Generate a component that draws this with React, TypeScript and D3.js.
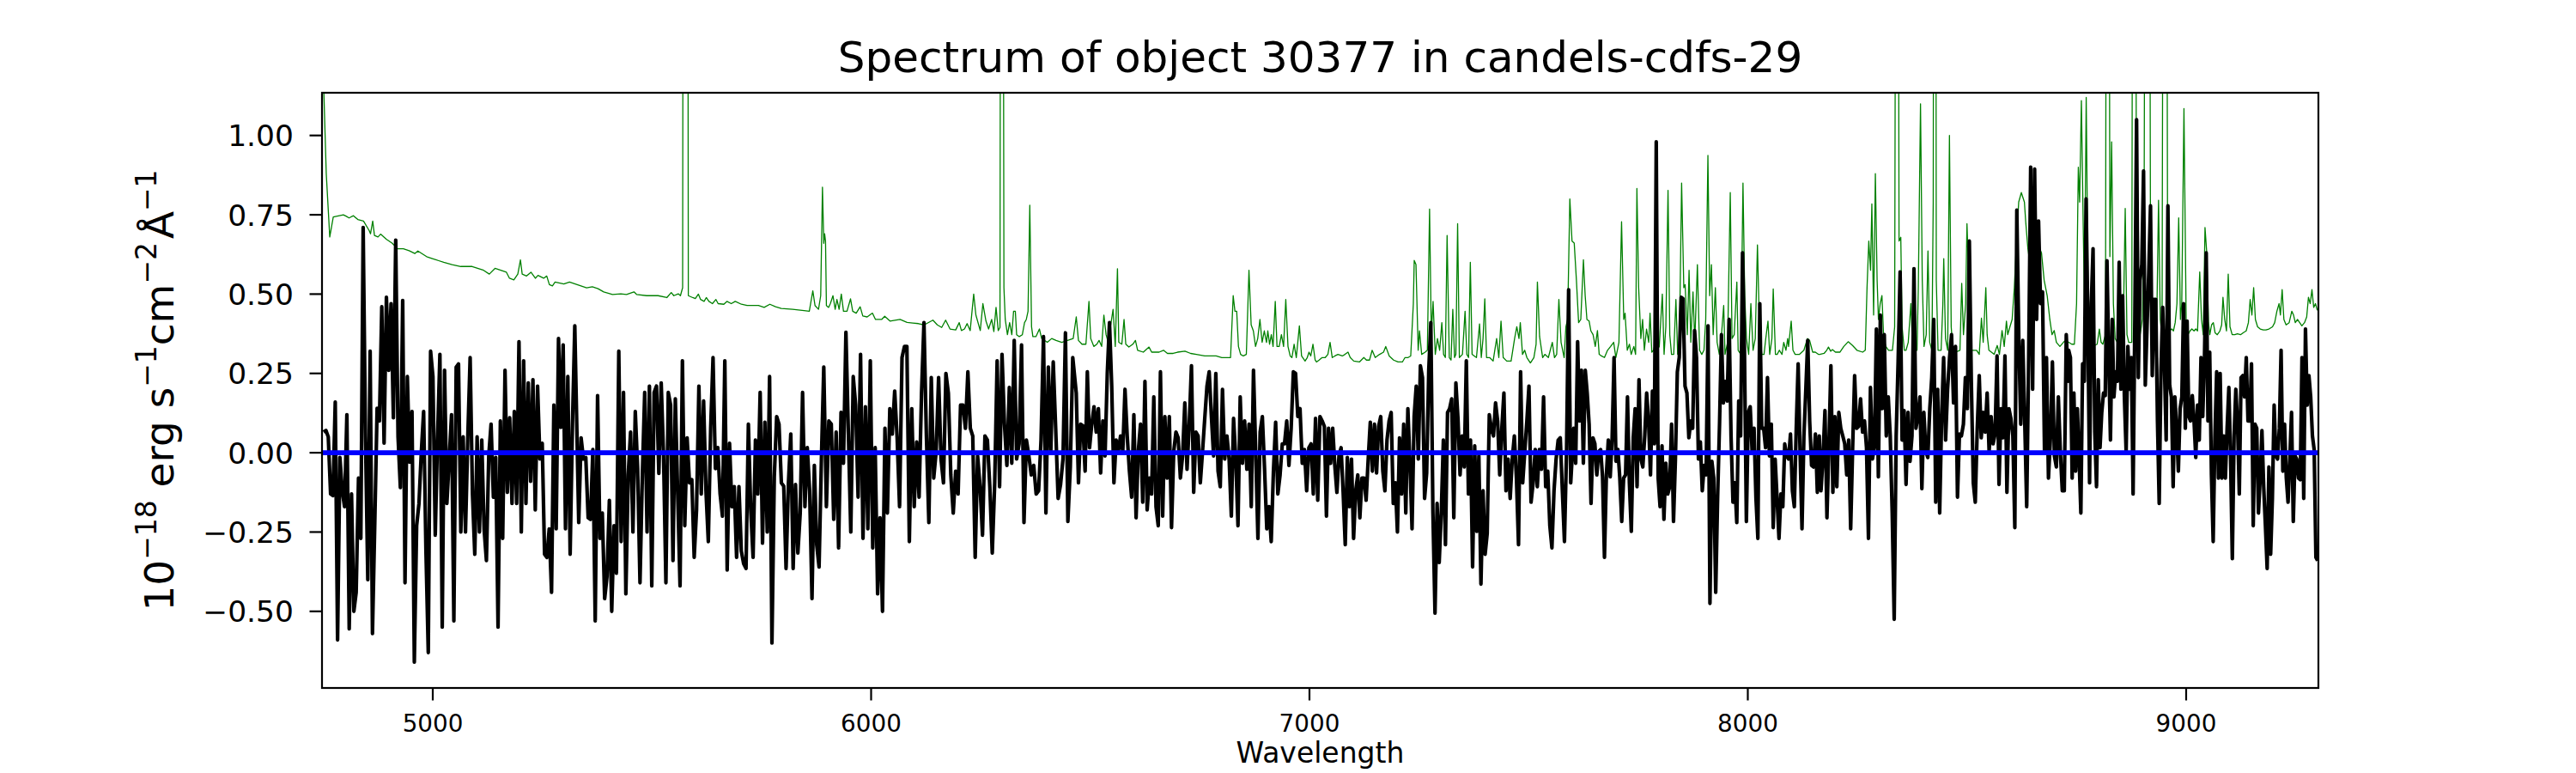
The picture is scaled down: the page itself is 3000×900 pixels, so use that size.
import React from 'react';
import * as d3 from 'd3';

// ---------- data ----------
const title = 'Spectrum of object 30377 in candels-cdfs-29';
const xLabel = 'Wavelength';
const xTicks = [5000, 6000, 7000, 8000, 9000];
const yTicks = [-0.5, -0.25, 0, 0.25, 0.5, 0.75, 1.0];
const xLimits = [4747.3, 9301.7];
const yLimits = [-0.7415, 1.1346];

// wavelength span (Å) covered by each block of flux samples
const segmentSpans: [number, number][] = [
  [4751, 5324], [5333, 5892], [5898, 6460], [6468, 7029],
  [7034, 7596], [7603, 8163], [8167, 8731], [8732, 9300],
];

const fluxA = [0.065, 0.07, 0.05, -0.13, -0.135, 0.16, -0.59, -0.015, -0.12, -0.17, 0.12, -0.555, -0.13, -0.5, -0.44, -0.08, -0.27, 0.71, 0.05, -0.40, 0.32, -0.57, -0.22, 0.14, 0.10, 0.46, 0.03, 0.49, 0.26, 0.47, 0.11, 0.67, 0.05, -0.11, 0.48, -0.41, 0.24, -0.03, 0.13, -0.66, -0.23, -0.16, 0.0, 0.13, -0.31, -0.63, 0.32, 0.24, -0.26, 0.05, 0.31, -0.55, 0.26, -0.16, -0.02, 0.12, -0.53, 0.27, 0.28, -0.25, 0.05, -0.25, 0.05, 0.30, -0.13, -0.32, 0.05, -0.25, 0.04, -0.24, -0.34, -0.01, 0.09, -0.14, -0.015, -0.55, 0.10, -0.27, 0.26, -0.125, 0.11, -0.16, 0.13, -0.16, 0.35, -0.25, 0.29, -0.16, 0.22, -0.09, 0.23, -0.18, 0.21, -0.02, 0.03, -0.32, -0.33, -0.24, -0.44, 0.15, -0.24, 0.36, 0.08, 0.34, -0.24, 0.24, -0.32, 0.09, 0.40];
const fluxB = [-0.22, 0.047, -0.02, -0.015, -0.205, -0.21, 0.01, -0.53, 0.18, -0.27, -0.19, -0.46, -0.39, -0.15, -0.50, -0.23, -0.38, 0.32, -0.28, 0.19, -0.445, -0.07, 0.065, -0.25, 0.13, -0.05, -0.41, -0.07, 0.19, -0.25, 0.21, -0.42, 0.19, 0.21, -0.065, 0.22, -0.01, -0.41, 0.19, 0.15, -0.34, 0.17, -0.13, -0.42, 0.29, -0.23, 0.047, -0.095, -0.085, -0.33, -0.18, 0.21, -0.13, 0.163, -0.12, -0.28, 0.077, 0.30, -0.05, 0.016, -0.13, -0.2, 0.29, -0.37, 0.03, -0.17, -0.107, -0.33, -0.107, -0.31, -0.35, -0.365, 0.09, -0.18, -0.33, 0.04, -0.13, 0.19, -0.285, 0.096, -0.25, 0.24, -0.60, -0.076, 0.114, 0.09, -0.095, -0.105, -0.365, -0.095, 0.059, -0.365, -0.1, -0.316, -0.19, 0.19, -0.17, 0.016, -0.12, -0.46, -0.04, -0.29, -0.36, -0.02, 0.27];
const fluxC = [-0.17, 0.10, 0.09, -0.21, 0.065, -0.30, 0.127, -0.033, 0.38, 0.065, -0.25, 0.24, 0.15, -0.14, 0.31, -0.27, 0.145, -0.24, 0.29, -0.30, 0.016, -0.445, -0.205, -0.50, 0.077, -0.19, 0.139, 0.059, 0.194, 0.047, -0.17, 0.30, 0.335, 0.335, -0.28, 0.139, -0.17, 0.034, -0.14, 0.188, 0.41, 0.053, -0.22, 0.237, -0.08, 0.004, 0.237, -0.02, -0.095, 0.25, 0.188, -0.07, -0.19, -0.058, -0.13, 0.15, 0.15, 0.077, 0.255, 0.077, 0.053, -0.33, -0.01, -0.107, -0.26, 0.053, 0.04, -0.107, -0.316, -0.095, 0.29, -0.107, 0.31, 0.09, -0.04, 0.206, -0.033, 0.354, -0.02, 0.028, 0.34, -0.22, 0.04, -0.01, -0.07, -0.04, -0.13, -0.12, 0.04, 0.366, -0.19, 0.27, 0.004, 0.286, 0.077, -0.144, -0.1, -0.02, 0.378, -0.217, -0.045, 0.30];
const fluxD = [0.188, -0.095, 0.09, 0.085, -0.058, 0.255, 0.016, 0.09, 0.145, 0.065, 0.139, -0.064, 0.10, -0.01, 0.25, 0.41, 0.21, -0.095, 0.04, 0.004, 0.053, 0.004, 0.2, 0.053, -0.058, -0.14, 0.12, -0.205, 0.004, 0.09, -0.156, 0.225, -0.18, -0.08, -0.13, 0.176, -0.17, -0.23, 0.255, -0.2, 0.114, -0.08, 0.114, -0.236, 0.004, 0.065, 0.047, -0.08, -0.01, 0.157, -0.052, 0.09, 0.274, -0.125, 0.065, 0.053, -0.095, 0.004, 0.108, 0.21, 0.255, 0.114, -0.01, 0.25, -0.058, -0.107, 0.2, -0.02, 0.053, -0.02, -0.2, 0.108, -0.02, -0.23, 0.176, -0.033, 0.10, -0.052, 0.09, -0.17, 0.26, 0.004, -0.27, 0.065, 0.114, -0.052, -0.24, -0.17, -0.28, -0.058, 0.096, -0.13, -0.07, 0.028, 0.028, 0.10, -0.04, 0.077, 0.255, 0.25, 0.114, 0.139, -0.033, 0.01, -0.12, 0.016, 0.028, -0.13, 0.108, -0.15, 0.114, 0.10];
const fluxE = [0.083, -0.2, 0.077, -0.033, 0.077, -0.04, -0.125, -0.01, 0.016, -0.125, -0.29, -0.015, -0.17, -0.02, -0.27, -0.12, -0.07, -0.205, -0.08, -0.08, -0.15, -0.02, 0.096, -0.058, 0.09, -0.064, 0.083, 0.114, -0.058, -0.12, 0.04, 0.10, 0.127, -0.16, -0.095, -0.25, 0.047, -0.13, 0.09, -0.19, 0.139, -0.033, -0.24, 0.114, 0.21, -0.02, 0.274, 0.237, -0.144, -0.064, 0.26, 0.41, -0.19, -0.506, -0.16, -0.346, -0.19, 0.04, -0.29, 0.127, 0.139, 0.17, -0.205, 0.22, 0.108, -0.07, 0.053, -0.045, 0.29, -0.13, 0.04, -0.36, 0.022, -0.248, -0.01, -0.414, -0.12, -0.32, -0.254, 0.12, 0.077, 0.053, 0.157, 0.10, -0.07, 0.077, 0.188, -0.12, -0.02, -0.144, -0.02, 0.053, -0.08, -0.29, 0.255, -0.095, 0.004, 0.10, 0.21, -0.156, -0.095, 0.01, -0.107, 0.01, -0.052, 0.176, -0.107, -0.058, -0.23, -0.30, -0.12, -0.02, 0.04, 0.047, -0.12, -0.28, 0.004, 0.514, -0.095];
const fluxF = [0.077, -0.033, 0.35, 0.10, 0.26, -0.033, 0.26, 0.188, 0.09, -0.16, 0.047, 0.028, -0.07, 0.004, 0.01, -0.076, -0.33, -0.07, 0.04, -0.076, 0.047, 0.30, -0.027, 0.01, -0.08, -0.217, -0.08, -0.07, 0.176, -0.095, -0.248, 0.047, 0.139, -0.107, 0.23, -0.02, -0.045, 0.053, 0.188, 0.10, -0.07, 0.194, 0.028, 0.98, -0.08, -0.17, 0.022, -0.21, -0.033, -0.13, -0.107, 0.09, -0.217, -0.02, 0.255, 0.30, 0.49, 0.485, 0.21, 0.188, 0.047, 0.10, 0.077, 0.385, 0.30, -0.02, 0.034, -0.12, -0.04, -0.07, 0.40, -0.475, -0.027, -0.08, -0.44, -0.144, 0.09, 0.372, 0.157, 0.225, 0.163, 0.42, 0.053, -0.156, -0.095, -0.22, 0.163, 0.053, 0.63, 0.323, -0.217, 0.127, 0.145, 0.004, 0.077, -0.144, -0.27, 0.47, 0.077, 0.077, 0.016, 0.237, -0.01, 0.09, -0.236, -0.02, -0.144, -0.27, -0.13, -0.17, 0.028, -0.01, -0.02, 0.059, -0.12, -0.17, 0.077, 0.28, 0.004, -0.24, 0.053, 0.2, 0.354, 0.10, -0.04, -0.045, 0.059, -0.125, 0.053];
const fluxG = [-0.12, -0.015, 0.133, -0.205, 0.028, 0.274, -0.125, 0.114, -0.107, 0.127, 0.077, 0.053, 0.028, -0.07, 0.04, -0.24, 0.016, 0.243, 0.077, 0.083, 0.17, 0.065, 0.10, 0.016, -0.27, 0.206, -0.02, 0.016, 0.39, -0.076, 0.434, 0.139, 0.372, 0.053, 0.176, 0.053, -0.19, -0.525, 0.053, 0.29, 0.57, 0.04, 0.133, -0.1, 0.127, -0.027, 0.053, 0.58, 0.077, 0.114, 0.176, -0.113, 0.127, 0.004, -0.015, 0.139, 0.237, 0.42, -0.156, 0.2, -0.19, 0.114, 0.30, 0.04, 0.2, 0.30, 0.372, 0.157, 0.335, -0.14, 0.059, 0.053, 0.09, 0.237, 0.139, 0.667, 0.225, -0.095, -0.156, 0.077, 0.243, 0.047, 0.127, 0.065, 0.188, 0.004, 0.114, 0.028, 0.059, 0.305, -0.1, 0.139, 0.047, 0.305, -0.125, 0.139, 0.108, 0.053, -0.236, 0.765, 0.36, 0.09, 0.354, 0.10, -0.17, 0.30, 0.90, 0.2, 0.894, 0.42, 0.73, 0.47, 0.507, 0.004, 0.30, -0.08, 0.047, 0.286, -0.01, -0.045, 0.176, 0.004, -0.12, -0.12, 0.372, 0.225];
const fluxH = [0.323, 0.30, -0.08, 0.188, -0.058, 0.139, -0.02, -0.19, 0.28, 0.225, 0.80, 0.42, -0.095, 0.47, 0.643, 0.065, -0.107, 0.23, 0.016, 0.127, 0.188, 0.18, 0.605, 0.30, 0.04, 0.42, 0.176, 0.255, 0.225, 0.60, 0.2, 0.495, 0.176, 0.004, 0.335, 0.2, 0.30, -0.13, 0.42, 1.05, 0.237, 0.544, 0.593, 0.888, 0.213, 0.397, 0.57, 0.778, 0.243, 0.483, 0.483, 0.10, -0.16, 0.26, 0.458, 0.274, 0.04, 0.778, 0.213, 0.176, -0.107, 0.176, 0.077, -0.058, 0.139, 0.176, 0.47, 0.077, 0.415, 0.114, 0.10, 0.18, 0.10, -0.015, 0.15, 0.04, 0.30, 0.114, 0.30, 0.63, 0.10, 0.317, -0.07, -0.28, 0.053, 0.255, -0.08, 0.25, -0.08, 0.053, -0.08, 0.077, 0.206, -0.02, -0.334, 0.053, 0.2, 0.09, -0.13, 0.237, 0.243, 0.176, 0.30, 0.10, 0.10, 0.28, -0.23, 0.09, 0.077, -0.19, -0.08, 0.07, -0.107, -0.23, -0.365, -0.045, -0.32, -0.144, 0.15, -0.01, -0.02, 0.077, 0.323, -0.058, 0.09, -0.08, -0.156, -0.02, 0.127, -0.217, -0.01, -0.02, -0.08, -0.085, 0.30, -0.144, 0.39, 0.15, 0.243, 0.176, 0.053, 0.01, -0.33, -0.34];
const fluxBlocks = [fluxA, fluxB, fluxC, fluxD, fluxE, fluxF, fluxG, fluxH];

// noise / sky spectrum: [wavelength, value]
const noiseA: [number, number][] = [[4748,1.3],[4757,0.88],[4765,0.68],[4773,0.743],[4796,0.75],[4803,0.745],[4809,0.74],[4819,0.747],[4829,0.735],[4842,0.73],[4855,0.70],[4858,0.69],[4863,0.73],[4867,0.685],[4875,0.68],[4881,0.689],[4894,0.673],[4907,0.661],[4920,0.643],[4933,0.643],[4946,0.637],[4959,0.628],[4966,0.636],[4986,0.618],[4999,0.612],[5012,0.606],[5025,0.60],[5044,0.593],[5064,0.587],[5090,0.587],[5116,0.575],[5129,0.563],[5142,0.581],[5168,0.569],[5175,0.55],[5185,0.545],[5194,0.563],[5200,0.608],[5204,0.563],[5214,0.557],[5224,0.569],[5234,0.55],[5240,0.559],[5253,0.55],[5260,0.557],[5266,0.53],[5273,0.526],[5279,0.538],[5299,0.532],[5312,0.538]];
const noiseB: [number, number][] = [[5325,0.532],[5338,0.526],[5351,0.52],[5364,0.523],[5377,0.517],[5390,0.507],[5410,0.499],[5429,0.501],[5442,0.499],[5459,0.507],[5465,0.499],[5488,0.495],[5514,0.495],[5534,0.489],[5544,0.505],[5550,0.495],[5560,0.501],[5565,0.495],[5570,0.52],[5572,3.0],[5581,3.0],[5583,0.495],[5593,0.489],[5599,0.486],[5606,0.50],[5611,0.483],[5619,0.477],[5624,0.489],[5630,0.477],[5638,0.47],[5646,0.483],[5651,0.47],[5664,0.468],[5671,0.477],[5681,0.47],[5690,0.477],[5704,0.468],[5717,0.464],[5743,0.464],[5756,0.458],[5769,0.468],[5782,0.46],[5795,0.455],[5821,0.452],[5847,0.448],[5859,0.446],[5867,0.51],[5872,0.464],[5880,0.452],[5885,0.495],[5889,0.837],[5892,0.66]];
const noiseC: [number, number][] = [[5894,0.69],[5896,0.667],[5898,0.464],[5903,0.458],[5907,0.47],[5913,0.495],[5918,0.452],[5922,0.483],[5927,0.452],[5932,0.50],[5937,0.446],[5945,0.446],[5953,0.485],[5958,0.446],[5966,0.44],[5975,0.46],[5981,0.431],[5991,0.428],[6003,0.44],[6010,0.42],[6024,0.42],[6031,0.43],[6043,0.415],[6066,0.42],[6082,0.411],[6095,0.409],[6108,0.407],[6121,0.403],[6141,0.418],[6151,0.403],[6161,0.395],[6170,0.418],[6180,0.39],[6193,0.387],[6201,0.41],[6206,0.385],[6213,0.39],[6219,0.407],[6226,0.385],[6234,0.50],[6239,0.434],[6249,0.385],[6255,0.47],[6262,0.415],[6268,0.39],[6275,0.42],[6280,0.382],[6285,0.458],[6290,0.385],[6294,0.395],[6296,3.0],[6300,3.0],[6303,0.52],[6306,0.42],[6311,0.372],[6316,0.41],[6321,0.372],[6325,0.446],[6329,0.446],[6332,0.372],[6338,0.366],[6345,0.372],[6350,0.41],[6354,0.42],[6358,0.446],[6362,0.78],[6366,0.397],[6369,0.366],[6376,0.366],[6384,0.39],[6389,0.36],[6402,0.348],[6412,0.36],[6422,0.354],[6435,0.348],[6448,0.354]];
const noiseD: [number, number][] = [[6461,0.36],[6468,0.428],[6473,0.354],[6481,0.342],[6490,0.342],[6497,0.477],[6501,0.36],[6508,0.335],[6515,0.342],[6520,0.354],[6526,0.335],[6531,0.434],[6536,0.372],[6541,0.348],[6546,0.397],[6552,0.452],[6557,0.335],[6562,0.58],[6565,0.348],[6572,0.342],[6577,0.42],[6581,0.342],[6588,0.333],[6597,0.342],[6603,0.354],[6608,0.323],[6621,0.317],[6634,0.333],[6640,0.317],[6657,0.317],[6667,0.323],[6676,0.313],[6689,0.313],[6699,0.317],[6716,0.32],[6729,0.313],[6742,0.31],[6761,0.305],[6787,0.305],[6800,0.30],[6820,0.30],[6826,0.495],[6830,0.446],[6834,0.446],[6838,0.335],[6843,0.31],[6849,0.305],[6856,0.31],[6862,0.575],[6867,0.403],[6872,0.384],[6877,0.335],[6882,0.36],[6887,0.42],[6892,0.348],[6897,0.384],[6902,0.348],[6905,0.384],[6909,0.342],[6913,0.372],[6917,0.335],[6922,0.477],[6926,0.335],[6931,0.335],[6936,0.372],[6941,0.335],[6946,0.483],[6951,0.335],[6956,0.305],[6960,0.30],[6965,0.342],[6970,0.30],[6977,0.40],[6982,0.305],[6990,0.289],[6995,0.30],[6999,0.317],[7003,0.305],[7008,0.342],[7013,0.292],[7016,0.286],[7022,0.292]];
const noiseE: [number, number][] = [[7029,0.30],[7036,0.30],[7042,0.31],[7047,0.348],[7052,0.30],[7058,0.305],[7065,0.31],[7075,0.305],[7081,0.31],[7088,0.317],[7093,0.30],[7101,0.289],[7114,0.286],[7124,0.30],[7130,0.292],[7137,0.292],[7143,0.323],[7150,0.30],[7160,0.31],[7169,0.317],[7174,0.335],[7182,0.305],[7192,0.292],[7202,0.286],[7212,0.286],[7218,0.30],[7225,0.30],[7231,0.305],[7237,0.47],[7239,0.606],[7243,0.593],[7248,0.323],[7251,0.384],[7256,0.31],[7264,0.317],[7269,0.323],[7274,0.768],[7278,0.372],[7282,0.477],[7287,0.31],[7292,0.36],[7297,0.323],[7302,0.41],[7306,0.31],[7310,0.30],[7314,0.685],[7319,0.30],[7323,0.292],[7327,0.452],[7331,0.30],[7334,0.31],[7338,0.722],[7342,0.30],[7349,0.31],[7355,0.446],[7359,0.31],[7363,0.30],[7367,0.60],[7371,0.31],[7376,0.305],[7381,0.30],[7388,0.406],[7392,0.30],[7396,0.36],[7400,0.485],[7404,0.30],[7411,0.30],[7419,0.289],[7427,0.36],[7432,0.30],[7437,0.415],[7442,0.30],[7450,0.289],[7460,0.289],[7468,0.36],[7473,0.397],[7478,0.36],[7481,0.41],[7486,0.31],[7491,0.323],[7496,0.30],[7504,0.283],[7512,0.30],[7517,0.342],[7520,0.538],[7525,0.366],[7532,0.30],[7537,0.31],[7545,0.30],[7554,0.348],[7559,0.30],[7564,0.31],[7569,0.483],[7574,0.348],[7581,0.30],[7585,0.397],[7589,0.42],[7594,0.80]];
const noiseF: [number, number][] = [[7599,0.667],[7604,0.661],[7609,0.544],[7614,0.41],[7619,0.42],[7625,0.608],[7629,0.495],[7633,0.42],[7638,0.415],[7642,0.384],[7647,0.372],[7652,0.335],[7657,0.385],[7661,0.31],[7666,0.305],[7673,0.30],[7680,0.323],[7687,0.335],[7694,0.348],[7699,0.30],[7706,0.348],[7712,0.728],[7717,0.42],[7720,0.44],[7725,0.323],[7730,0.342],[7734,0.31],[7740,0.335],[7744,0.31],[7747,0.833],[7751,0.52],[7756,0.36],[7760,0.42],[7764,0.323],[7769,0.39],[7774,0.348],[7777,0.44],[7781,0.317],[7785,0.323],[7789,0.348],[7793,0.323],[7798,0.335],[7805,0.50],[7809,0.31],[7813,0.397],[7818,0.827],[7822,0.372],[7826,0.31],[7831,0.31],[7836,0.483],[7840,0.31],[7844,0.348],[7849,0.85],[7854,0.52],[7857,0.53],[7862,0.372],[7866,0.575],[7870,0.348],[7875,0.507],[7879,0.348],[7885,0.593],[7890,0.323],[7895,0.31],[7900,0.323],[7904,0.42],[7909,0.937],[7913,0.495],[7917,0.593],[7921,0.372],[7926,0.52],[7930,0.348],[7935,0.31],[7940,0.372],[7945,0.464],[7948,0.31],[7954,0.348],[7960,0.82],[7964,0.36],[7969,0.372],[7975,0.538],[7978,0.323],[7984,0.31],[7989,0.85],[7993,0.495],[7997,0.36],[8002,0.31],[8007,0.47],[8012,0.323],[8017,0.36],[8022,0.655],[8027,0.372],[8032,0.31],[8037,0.31],[8041,0.36],[8046,0.415],[8050,0.31],[8055,0.36],[8058,0.516],[8063,0.31],[8067,0.31],[8072,0.323],[8078,0.31],[8082,0.348],[8087,0.323],[8091,0.36],[8093,0.335],[8099,0.415],[8103,0.323],[8108,0.31],[8118,0.31],[8128,0.323],[8136,0.36],[8141,0.354],[8148,0.317],[8154,0.317],[8161,0.31]];
const noiseG: [number, number][] = [[8164,0.31],[8174,0.313],[8180,0.323],[8184,0.333],[8189,0.32],[8193,0.325],[8200,0.317],[8210,0.317],[8219,0.335],[8229,0.35],[8239,0.338],[8249,0.323],[8262,0.317],[8268,0.323],[8272,0.52],[8276,0.667],[8280,0.575],[8283,0.784],[8287,0.434],[8291,0.88],[8295,0.544],[8298,0.42],[8302,0.47],[8306,0.495],[8310,0.36],[8315,0.335],[8321,0.323],[8330,0.323],[8335,0.397],[8339,3.0],[8342,3.0],[8345,0.667],[8349,0.679],[8352,0.397],[8357,0.323],[8361,0.323],[8366,0.348],[8372,0.47],[8376,0.323],[8386,0.323],[8389,0.52],[8394,1.10],[8398,0.544],[8402,0.335],[8407,0.372],[8411,0.636],[8415,0.348],[8420,0.323],[8423,0.79],[8425,3.0],[8428,3.0],[8430,0.544],[8434,0.323],[8441,0.323],[8445,0.47],[8447,0.612],[8451,0.36],[8456,0.323],[8460,1.00],[8464,0.397],[8468,0.323],[8474,0.317],[8484,0.323],[8488,0.534],[8492,0.372],[8497,0.47],[8500,0.722],[8503,0.593],[8507,0.42],[8510,0.323],[8522,0.323],[8528,0.31],[8533,0.424],[8537,0.348],[8543,0.52],[8546,0.372],[8550,0.323],[8562,0.31],[8569,0.338],[8574,0.31],[8580,0.385],[8585,0.335],[8590,0.415],[8593,0.372],[8598,0.397],[8603,0.42],[8608,0.52],[8613,0.667],[8618,0.79],[8624,0.82],[8631,0.79],[8634,0.728],[8639,0.643],[8644,0.593],[8650,0.52],[8657,0.52],[8663,0.655],[8670,0.63],[8676,0.544],[8683,0.495],[8689,0.42],[8694,0.372],[8699,0.385],[8704,0.348],[8712,0.335],[8720,0.348],[8725,0.354]];
const noiseH: [number, number][] = [[8732,0.348],[8739,0.342],[8745,0.342],[8750,0.47],[8754,0.90],[8757,0.79],[8761,1.11],[8765,0.729],[8768,0.464],[8772,1.12],[8776,0.544],[8779,0.42],[8784,0.348],[8791,0.338],[8797,0.342],[8802,0.39],[8806,0.348],[8810,0.342],[8816,0.372],[8819,3.0],[8823,3.0],[8826,0.618],[8830,0.98],[8834,0.47],[8838,0.36],[8843,0.348],[8849,0.342],[8856,0.348],[8861,0.77],[8865,0.372],[8869,0.348],[8876,0.348],[8879,3.0],[8883,3.0],[8887,0.47],[8891,0.372],[8895,0.372],[8900,0.42],[8904,0.69],[8908,3.0],[8915,3.0],[8919,0.42],[8923,0.384],[8928,0.372],[8933,0.42],[8937,0.796],[8941,0.42],[8945,0.36],[8949,3.0],[8954,3.0],[8958,0.42],[8962,0.384],[8967,0.39],[8971,0.384],[8975,0.41],[8979,0.47],[8983,0.74],[8987,0.42],[8990,0.47],[8995,1.085],[9000,0.42],[9004,0.372],[9009,0.384],[9013,0.39],[9018,0.384],[9022,0.39],[9026,0.384],[9031,0.57],[9035,0.42],[9039,0.372],[9043,0.71],[9047,0.63],[9051,0.41],[9054,0.372],[9058,0.403],[9062,0.41],[9066,0.378],[9071,0.372],[9077,0.384],[9081,0.403],[9084,0.49],[9088,0.42],[9092,0.384],[9096,0.563],[9100,0.397],[9105,0.372],[9111,0.372],[9117,0.375],[9124,0.372],[9130,0.378],[9137,0.384],[9142,0.41],[9146,0.483],[9150,0.434],[9154,0.52],[9158,0.42],[9163,0.397],[9169,0.39],[9176,0.387],[9182,0.387],[9189,0.39],[9197,0.397],[9202,0.41],[9207,0.446],[9212,0.47],[9215,0.434],[9219,0.514],[9223,0.42],[9228,0.403],[9235,0.41],[9241,0.446],[9245,0.434],[9249,0.41],[9254,0.42],[9259,0.41],[9264,0.40],[9270,0.41],[9275,0.428],[9279,0.49],[9283,0.47],[9287,0.514],[9291,0.458],[9295,0.47],[9299,0.45],[9302,0.45]];
const noiseBlocks = [noiseA, noiseB, noiseC, noiseD, noiseE, noiseF, noiseG, noiseH];

const zeroLevel = 0;

// ---------- layout ----------
const W = 3000;
const H = 900;
const plot = { left: 375, right: 2700, top: 108, bottom: 801 };
const FONT = '"DejaVu Sans", "Liberation Sans", sans-serif';
const spineW = 2.2;
const tickLen = 14.5;

export default function App() {
  const x = d3.scaleLinear().domain(xLimits).range([plot.left, plot.right]);
  const y = d3.scaleLinear().domain(yLimits).range([plot.bottom, plot.top]);

  const fluxPoints: [number, number][] = fluxBlocks.flatMap((vals, k) => {
    const [w0, w1] = segmentSpans[k];
    const pos = d3.scaleLinear().domain([0, vals.length - 1]).range([w0, w1]);
    return vals.map((v, i) => [pos(i), v] as [number, number]);
  });
  const noisePoints = noiseBlocks.flat();

  const line = d3.line<[number, number]>().x(d => x(d[0])).y(d => y(d[1]));
  const fmt = d3.format('.2f');

  const yLabelSize = 47;
  const sup = yLabelSize * 0.7;
  const shift = yLabelSize * 0.42;

  return (
    <svg width={W} height={H} viewBox={`0 0 ${W} ${H}`}
      style={{ position: 'absolute', left: 0, top: 0, display: 'block', background: '#fff' }}
      fontFamily={FONT}>
      <rect x={0} y={0} width={W} height={H} fill="#fff" />
      <defs>
        <clipPath id="plotClip">
          <rect x={plot.left} y={plot.top} width={plot.right - plot.left} height={plot.bottom - plot.top} />
        </clipPath>
      </defs>
      <g clipPath="url(#plotClip)">
        <path d={line(noisePoints) || ''} fill="none" stroke="#008000" strokeWidth={1.3} strokeLinejoin="round" />
        <path d={line(fluxPoints) || ''} fill="none" stroke="#000" strokeWidth={4.2} strokeLinejoin="round" />
        <line x1={plot.left} x2={plot.right} y1={y(zeroLevel)} y2={y(zeroLevel)} stroke="#0000ff" strokeWidth={5.6} />
      </g>
      <rect x={plot.left} y={plot.top} width={plot.right - plot.left} height={plot.bottom - plot.top}
        fill="none" stroke="#000" strokeWidth={spineW} />
      {xTicks.map(t => (
        <g key={`x${t}`}>
          <line x1={x(t)} x2={x(t)} y1={plot.bottom} y2={plot.bottom + tickLen} stroke="#000" strokeWidth={spineW} />
          <text x={x(t)} y={851.7} fontSize={27.8} textAnchor="middle" fill="#000">{t}</text>
        </g>
      ))}
      {yTicks.map(t => (
        <g key={`y${t}`}>
          <line x1={plot.left - tickLen} x2={plot.left} y1={y(t)} y2={y(t)} stroke="#000" strokeWidth={spineW} />
          <text x={342} y={y(t) + 12.6} fontSize={34.5} textAnchor="end" fill="#000">{fmt(t)}</text>
        </g>
      ))}
      <text x={(plot.left + plot.right) / 2} y={84} fontSize={50} textAnchor="middle" fill="#000">{title}</text>
      <text x={(plot.left + plot.right) / 2} y={888.3} fontSize={33} textAnchor="middle" fill="#000">{xLabel}</text>
      <text transform={`translate(202,${(plot.top + plot.bottom) / 2}) rotate(-90)`} fontSize={yLabelSize}
        textAnchor="middle" fill="#000" style={{ whiteSpace: 'pre' }}>
        <tspan>10</tspan>
        <tspan fontSize={sup} dy={-shift}>−18</tspan>
        <tspan dy={shift}> erg s</tspan>
        <tspan fontSize={sup} dy={-shift}>−1</tspan>
        <tspan dy={shift}>cm</tspan>
        <tspan fontSize={sup} dy={-shift}>−2</tspan>
        <tspan dy={shift} dx={4}>Å</tspan>
        <tspan fontSize={sup} dy={-shift}>−1</tspan>
      </text>
    </svg>
  );
}
